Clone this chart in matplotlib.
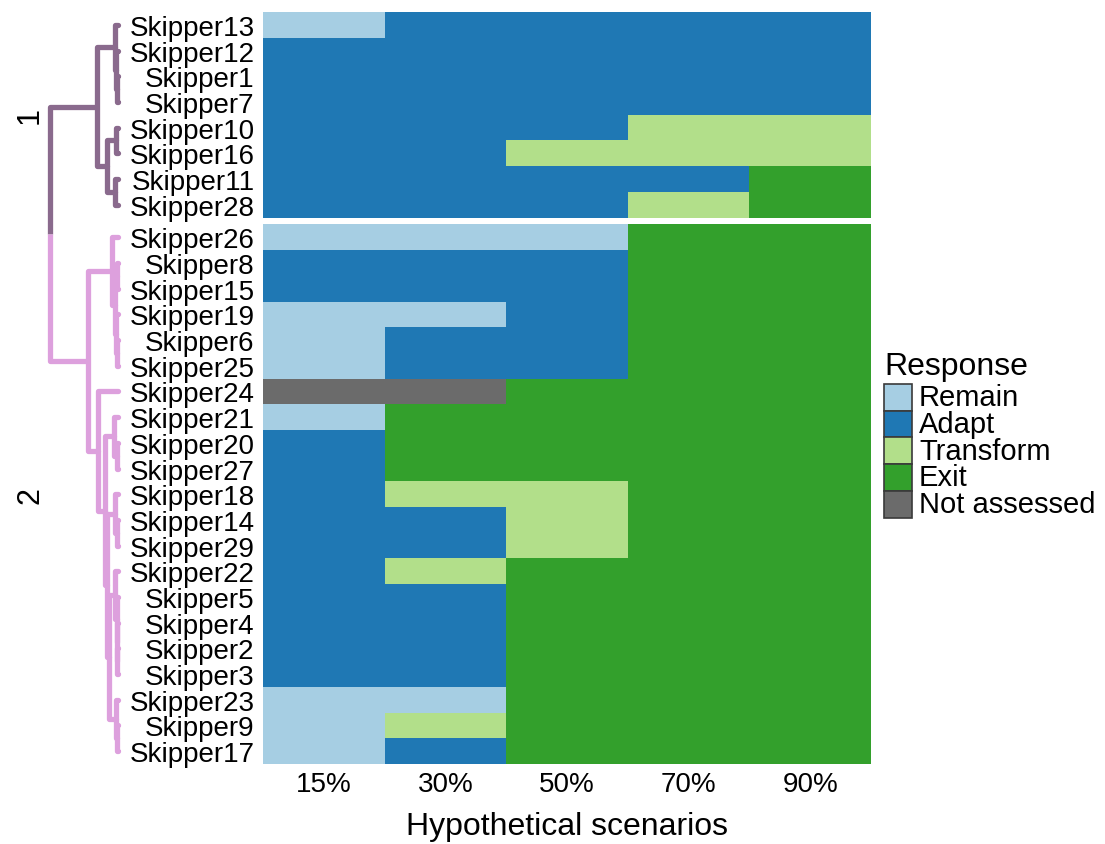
import numpy as np
import matplotlib
matplotlib.use("Agg")
import matplotlib.pyplot as plt
from matplotlib.colors import ListedColormap, BoundaryNorm
from matplotlib.patches import Rectangle

plt.rcParams['font.family'] = ['Liberation Sans', 'DejaVu Sans']

# ---- data ---------------------------------------------------------------
scenarios = ["15%", "30%", "50%", "70%", "90%"]
responses = ["Remain", "Adapt", "Transform", "Exit", "Not assessed"]
response_codes = ["R", "A", "T", "E", "N"]
response_colors = ["#a6cee3", "#1f78b4", "#b2df8a", "#33a02c", "#6b6b6b"]

cluster1_skippers = ["Skipper13", "Skipper12", "Skipper1", "Skipper7",
                     "Skipper10", "Skipper16", "Skipper11", "Skipper28"]
cluster1_responses = ["RAAAA", "AAAAA", "AAAAA", "AAAAA",
                      "AAATT", "AATTT", "AAAAE", "AAATE"]

cluster2_skippers = ["Skipper26", "Skipper8", "Skipper15", "Skipper19",
                     "Skipper6", "Skipper25", "Skipper24", "Skipper21",
                     "Skipper20", "Skipper27", "Skipper18", "Skipper14",
                     "Skipper29", "Skipper22", "Skipper5", "Skipper4",
                     "Skipper2", "Skipper3", "Skipper23", "Skipper9",
                     "Skipper17"]
cluster2_responses = ["RRREE", "AAAEE", "AAAEE", "RRAEE", "RAAEE", "RAAEE",
                      "NNEEE", "REEEE", "AEEEE", "AEEEE", "ATTEE", "AATEE",
                      "AATEE", "ATEEE", "AAEEE", "AAEEE", "AAEEE", "AAEEE",
                      "RREEE", "RTEEE", "RAEEE"]

# hierarchical clustering merges: (node, left, right, height)
cluster1_merges = [
    ("a1", "Skipper1", "Skipper7", 0.015),
    ("a2", "Skipper12", "a1", 0.030),
    ("a3", "Skipper13", "a2", 0.045),
    ("a4", "Skipper10", "Skipper16", 0.030),
    ("a5", "Skipper11", "Skipper28", 0.045),
    ("a6", "a4", "a5", 0.16),
    ("c1", "a3", "a6", 0.31),
]
cluster2_merges = [
    ("b1", "Skipper6", "Skipper25", 0.015),
    ("b2", "Skipper19", "b1", 0.030),
    ("b3", "Skipper8", "Skipper15", 0.015),
    ("b4", "b3", "b2", 0.045),
    ("b5", "Skipper26", "b4", 0.09),
    ("b6", "Skipper20", "Skipper27", 0.015),
    ("b7", "Skipper21", "b6", 0.06),
    ("b8", "Skipper14", "Skipper29", 0.015),
    ("b9", "Skipper18", "b8", 0.045),
    ("b10", "Skipper2", "Skipper3", 0.008),
    ("b11", "Skipper4", "b10", 0.015),
    ("b12", "Skipper5", "b11", 0.022),
    ("b13", "Skipper22", "b12", 0.045),
    ("b14", "Skipper9", "Skipper17", 0.015),
    ("b15", "Skipper23", "b14", 0.030),
    ("b16", "b13", "b15", 0.13),
    ("b17", "b9", "b16", 0.16),
    ("b18", "b7", "b17", 0.19),
    ("b19", "Skipper24", "b18", 0.29),
    ("c2", "b5", "b19", 0.44),
]
root_merge = ("root", "c1", "c2", 1.0)
cluster_colors = ["#8a6a8d", "#dda0dd"]
cluster_names = ["1", "2"]

# ---- figure geometry ----------------------------------------------------
W, H = 1105, 845
fig = plt.figure(figsize=(W / 100, H / 100), dpi=100)

def fx(px):
    return px / W

def fy(py):
    return 1 - py / H

hm_left, hm_right, hm_top, hm_bottom = 263, 871, 13, 765
gap = 0.27

n1, n2 = len(cluster1_skippers), len(cluster2_skippers)
skippers = cluster1_skippers + cluster2_skippers
rows = cluster1_responses + cluster2_responses

# row edges with a thin blank band between the two clusters
y_edges = np.concatenate([np.arange(n1 + 1),
                          n1 + gap + np.arange(n2 + 1)])
row_centers = np.concatenate([np.arange(n1) + 0.5,
                              n1 + gap + np.arange(n2) + 0.5])
y_total = n1 + n2 + gap

codes = [[response_codes.index(c) for c in r] for r in rows]
grid = np.full((n1 + n2 + 1, len(scenarios)), np.nan)
grid[:n1] = codes[:n1]
grid[n1 + 1:] = codes[n1:]
grid = np.ma.masked_invalid(grid)

ax = fig.add_axes([fx(hm_left), fy(hm_bottom),
                   fx(hm_right - hm_left), (hm_bottom - hm_top) / H])
cmap = ListedColormap(response_colors)
norm = BoundaryNorm(np.arange(len(responses) + 1) - 0.5, cmap.N)
ax.pcolormesh(np.arange(len(scenarios) + 1), y_edges, grid,
              cmap=cmap, norm=norm, shading="flat")
ax.set_xlim(0, len(scenarios))
ax.set_ylim(y_total, 0)
ax.set_yticks(row_centers)
ax.set_yticklabels(skippers)
ax.set_xticks(np.arange(len(scenarios)) + 0.5)
ax.set_xticklabels(scenarios)
ax.tick_params(axis="y", length=0, pad=6, labelsize=20)
ax.tick_params(axis="x", length=0, pad=5, labelsize=20)
ax.set_xlabel("Hypothetical scenarios", fontsize=23, labelpad=10)
for s in ax.spines.values():
    s.set_visible(False)

# ---- dendrogram ---------------------------------------------------------
leaf_px, root_px = 118, 50
scale = leaf_px - root_px
dax = fig.add_axes([0, fy(hm_bottom), fx(hm_left), (hm_bottom - hm_top) / H])
dax.set_xlim(leaf_px / scale, (leaf_px - hm_left) / scale)
dax.set_ylim(y_total, 0)
dax.axis("off")

ypos = {name: y for name, y in zip(skippers, row_centers)}
hgt = {name: 0.0 for name in skippers}
lw = 3.8

def bracket(node, left, right, h, color):
    ypos[node] = (ypos[left] + ypos[right]) / 2
    hgt[node] = h
    dax.plot([hgt[left], h, h, hgt[right]],
             [ypos[left], ypos[left], ypos[right], ypos[right]],
             color=color, lw=lw, solid_capstyle="round",
             solid_joinstyle="round")

for merges, col in zip([cluster1_merges, cluster2_merges], cluster_colors):
    for node, left, right, h in merges:
        bracket(node, left, right, h, col)

rnode, rleft, rright, rh = root_merge
ymid = (ypos[rleft] + ypos[rright]) / 2
dax.plot([hgt[rleft], rh, rh], [ypos[rleft], ypos[rleft], ymid],
         color=cluster_colors[0], lw=lw, solid_capstyle="butt",
         solid_joinstyle="round")
dax.plot([rh, rh, hgt[rright]], [ymid, ypos[rright], ypos[rright]],
         color=cluster_colors[1], lw=lw, solid_capstyle="butt",
         solid_joinstyle="round")

label_h = (leaf_px - 30) / scale
dax.text(label_h, n1 / 2, cluster_names[0], rotation=90, fontsize=22,
         ha="center", va="center")
dax.text(label_h, n1 + gap + n2 / 2, cluster_names[1], rotation=90,
         fontsize=22, ha="center", va="center")

# ---- legend -------------------------------------------------------------
lax = fig.add_axes([fx(870), fy(540), fx(W - 870), (540 - 340) / H])
lax.set_xlim(870, W)
lax.set_ylim(540, 340)
lax.axis("off")
lax.text(884, 367, "Response", fontsize=23, ha="left", va="center")
key_top, key_h = 385, 26.7
for i, (lab, col) in enumerate(zip(responses, response_colors)):
    y0 = key_top + i * key_h
    lax.add_patch(Rectangle((884, y0), 28, key_h, facecolor=col,
                            edgecolor="#3a3a3a", linewidth=1.2))
    lax.text(919, y0 + key_h / 2, lab, fontsize=21, ha="left",
             va="center")

fig.savefig("out.png", dpi=100)
